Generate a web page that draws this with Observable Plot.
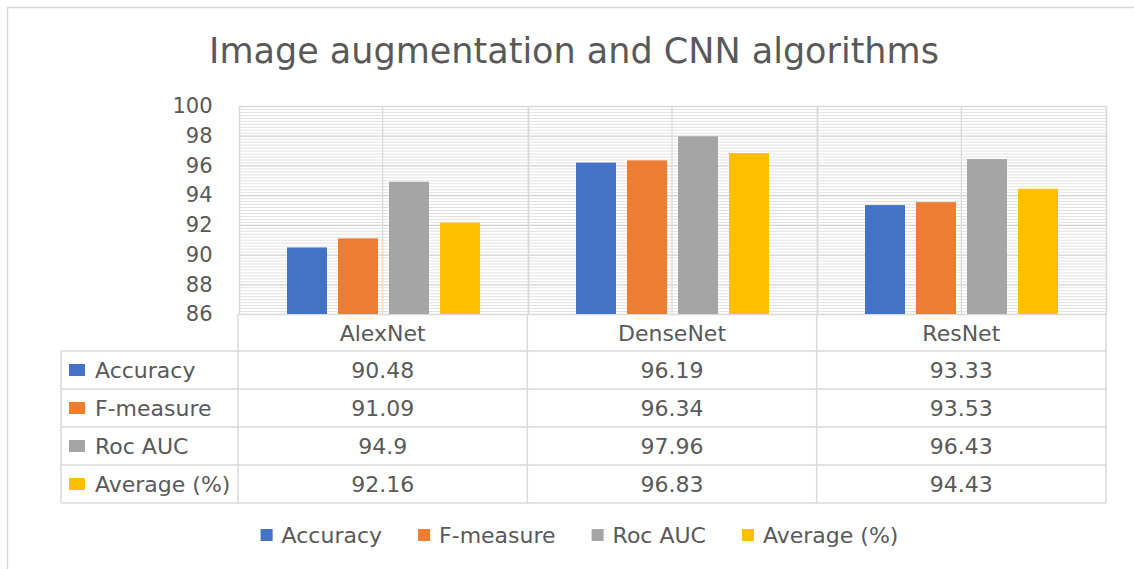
<!DOCTYPE html>
<html>
<head>
<meta charset="utf-8">
<script src="https://cdn.jsdelivr.net/npm/d3@7"></script>
<script src="https://cdn.jsdelivr.net/npm/@observablehq/plot@0.6"></script>
<style>
  html, body { margin: 0; padding: 0; background: #fff; overflow: hidden; }
  #chart { width: 1134px; height: 569px; }
</style>
</head>
<body>
<div id="chart"></div>
<script>
// ---- data ----
const title = "Image augmentation and CNN algorithms";
const models = ["AlexNet", "DenseNet", "ResNet"];
const metrics = ["Accuracy", "F-measure", "Roc AUC", "Average (%)"];
const accuracy = [90.48, 96.19, 93.33];
const fMeasure = [91.09, 96.34, 93.53];
const rocAuc = [94.9, 97.96, 96.43];
const average = [92.16, 96.83, 94.43];
const yTicks = [86, 88, 90, 92, 94, 96, 98, 100];
const colors = ["#4472C4", "#ED7D31", "#A5A5A5", "#FFC000"];

// ---- derived table ----
const series = [accuracy, fMeasure, rocAuc, average];
const rows = [];
metrics.forEach((m, j) => models.forEach((c, i) => rows.push({model: c, metric: m, value: series[j][i]})));
const yDomain = [yTicks[0], yTicks[yTicks.length - 1]];
const minorTicks = d3.range(yDomain[0], yDomain[1] + 1e-9, 0.2).filter(v => Math.abs(v / 2 - Math.round(v / 2)) > 1e-6);

const textColor = "#595959";
const lineColor = "#d9d9d9";
const font = "DejaVu Sans";
const tableFont = 22;

const plot = Plot.plot({
  width: 1134,
  height: 569,
  marginTop: 106,
  marginBottom: 255,
  marginLeft: 238,
  marginRight: 28,
  style: {fontFamily: font, fontSize: "21px", color: textColor, background: "transparent", overflow: "visible"},
  fx: {domain: models, padding: 0, axis: null},
  x: {domain: metrics, paddingInner: 0.2115, paddingOuter: 0.888, axis: null},
  y: {domain: yDomain, ticks: yTicks, tickSize: 0, tickPadding: 27, label: null, tickFormat: d => String(d)},
  color: {domain: metrics, range: colors},
  marks: [
    Plot.ruleY(minorTicks, {stroke: "#e2e2e2", strokeWidth: 1}),
    Plot.ruleY(yTicks, {stroke: "#cfcfcf", strokeWidth: 1.2}),
    Plot.frame({stroke: lineColor, strokeWidth: 1.5}),
    Plot.barY(rows, {fx: "model", x: "metric", y1: d => yDomain[0], y2: "value", fill: "metric"})
  ]
});

document.getElementById("chart").appendChild(plot);

const svg = d3.select(plot);
const fxD = plot.scale("fx");
const yD = plot.scale("y");
const step = (fxD.range[1] - fxD.range[0]) / models.length;
const fxLeft = i => fxD.range[0] + i * step;
const yBottom = yD.range[0];
const yTop = yD.range[1];

// outer border
svg.insert("rect", ":first-child")
  .attr("x", 7.5).attr("y", 7.5).attr("width", 1200).attr("height", 700)
  .attr("fill", "white").attr("stroke", lineColor).attr("stroke-width", 1.5);

// vertical centre grid lines in each category
const barsG = svg.select("g[aria-label='bar']").node();
const centers = svg.insert("g", () => barsG);
models.forEach((m, i) => {
  const cx = fxLeft(i) + step / 2;
  centers.append("line").attr("x1", cx).attr("x2", cx).attr("y1", yTop).attr("y2", yBottom)
    .attr("stroke", lineColor).attr("stroke-width", 1.2);
});

// title
svg.append("text").attr("x", 574).attr("y", 63).attr("text-anchor", "middle")
  .attr("font-family", font).attr("font-size", 35).attr("fill", textColor).text(title);

// data table
const headerBottom = yBottom + 37;
const rowH = 38;
const tableLeft = 61;
const tableRight = fxD.range[1];
const tg = svg.append("g").attr("stroke", lineColor).attr("stroke-width", 1.5);
for (let k = 0; k <= metrics.length; k++) {
  const yy = headerBottom + k * rowH;
  tg.append("line").attr("x1", tableLeft).attr("x2", tableRight).attr("y1", yy).attr("y2", yy);
}
tg.append("line").attr("x1", tableLeft).attr("x2", tableLeft).attr("y1", headerBottom).attr("y2", headerBottom + metrics.length * rowH);
for (let i = 0; i <= models.length; i++) {
  const xx = fxLeft(i);
  tg.append("line").attr("x1", xx).attr("x2", xx).attr("y1", yBottom).attr("y2", headerBottom + metrics.length * rowH);
}
const txt = svg.append("g").attr("font-family", font).attr("font-size", tableFont).attr("fill", textColor).attr("text-anchor", "start");
models.forEach((m, i) => {
  txt.append("text").attr("x", fxLeft(i) + step / 2).attr("y", (yBottom + headerBottom) / 2 + 1)
    .attr("dy", "0.35em").attr("text-anchor", "middle").text(m);
});
metrics.forEach((m, j) => {
  const cy = headerBottom + j * rowH + rowH / 2;
  txt.append("rect").attr("x", 69).attr("y", cy - 6).attr("width", 16).attr("height", 12).attr("fill", colors[j]);
  txt.append("text").attr("x", 95).attr("y", cy).attr("dy", "0.35em").attr("text-anchor", "start").text(m);
  models.forEach((c, i) => {
    txt.append("text").attr("x", fxLeft(i) + step / 2).attr("y", cy).attr("dy", "0.35em")
      .attr("text-anchor", "middle").text(String(series[j][i]));
  });
});

// legend
const lg = svg.append("g").attr("font-family", font).attr("font-size", tableFont).attr("fill", textColor).attr("text-anchor", "start");
const legendY = 535;
let lx = 0;
metrics.forEach((m, j) => {
  const g = lg.append("g");
  g.append("rect").attr("x", 0).attr("y", legendY - 6).attr("width", 12).attr("height", 12).attr("fill", colors[j]);
  const t = g.append("text").attr("x", 21).attr("y", legendY).attr("dy", "0.35em").attr("text-anchor", "start").text(m);
  const w = 21 + t.node().getComputedTextLength();
  g.attr("transform", `translate(${lx},0)`);
  lx += w + 36;
});
const total = lx - 36;
lg.attr("transform", `translate(${579.5 - total / 2},0)`);
</script>
</body>
</html>
